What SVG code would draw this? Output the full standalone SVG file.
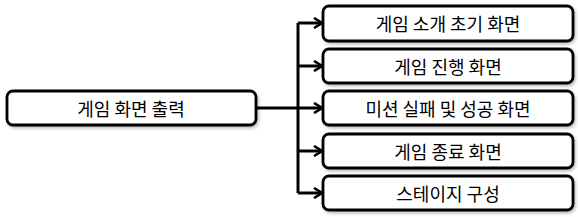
<svg xmlns="http://www.w3.org/2000/svg" width="578" height="217" viewBox="0 0 578 217">
<defs>
<style>
.box{fill:#fff;stroke:#000;stroke-width:2.8;filter:url(#sh)}
.lbl{font-family:"Noto Sans CJK KR","Noto Sans",sans-serif;font-size:18px;fill:#000;text-anchor:middle;dominant-baseline:central}
.ln{fill:none;stroke:#000;stroke-width:3}
</style>
<filter id="sh" x="-10%" y="-30%" width="120%" height="160%">
<feDropShadow dx="1.5" dy="2" stdDeviation="1.5" flood-color="#000" flood-opacity="0.25"/>
</filter>
<marker id="arr" viewBox="0 0 10 12" refX="9" refY="6" markerWidth="10" markerHeight="12" markerUnits="userSpaceOnUse" orient="auto">
<path d="M1,1 L9,6 L1,11" fill="none" stroke="#000" stroke-width="2.6" stroke-linejoin="miter"/>
</marker>
</defs>
<rect width="578" height="217" fill="#fff"/>
<g id="connectors">
<path class="ln" d="M256,108 H298"/>
<path class="ln" d="M298,23 V193"/>
<path class="ln" d="M298,23 H322" marker-end="url(#arr)"/>
<path class="ln" d="M298,66 H322" marker-end="url(#arr)"/>
<path class="ln" d="M298,108 H322" marker-end="url(#arr)"/>
<path class="ln" d="M298,151 H322" marker-end="url(#arr)"/>
<path class="ln" d="M298,193 H322" marker-end="url(#arr)"/>
</g>
<g id="root"><rect class="box" x="7" y="91" width="249" height="34" rx="6"/><text class="lbl" x="131" y="108">게임 화면 출력</text></g>
<g id="n1"><rect class="box" x="323" y="6" width="250" height="35" rx="6"/><text class="lbl" x="448" y="23">게임 소개 초기 화면</text></g>
<g id="n2"><rect class="box" x="323" y="49" width="250" height="34" rx="6"/><text class="lbl" x="448" y="66">게임 진행 화면</text></g>
<g id="n3"><rect class="box" x="323" y="91" width="250" height="34" rx="6"/><text class="lbl" x="448" y="108">미션 실패 및 성공 화면</text></g>
<g id="n4"><rect class="box" x="323" y="134" width="250" height="34" rx="6"/><text class="lbl" x="448" y="151">게임 종료 화면</text></g>
<g id="n5"><rect class="box" x="323" y="176" width="250" height="34" rx="6"/><text class="lbl" x="448" y="193">스테이지 구성</text></g>
</svg>
